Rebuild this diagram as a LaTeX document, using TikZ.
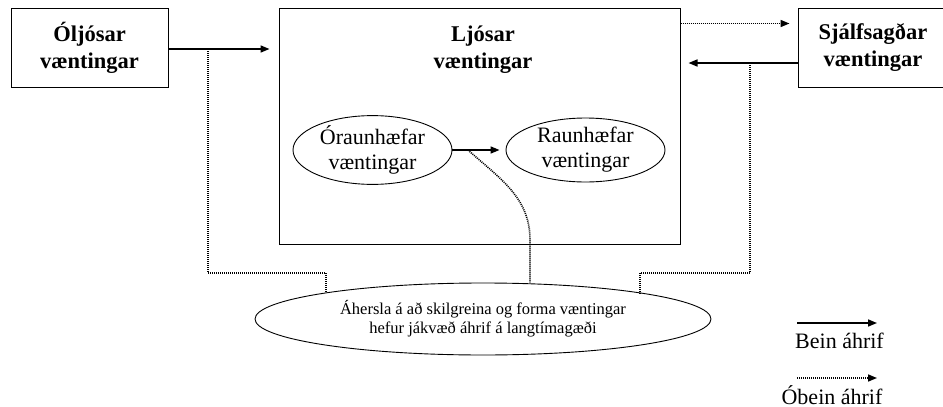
\documentclass[tikz,border=0pt]{standalone}
\usepackage{fontspec}
\setmainfont{Liberation Serif}
\usepackage{tikz}
\usetikzlibrary{shapes.geometric}
\usetikzlibrary{arrows.meta}
\newcommand \hfont {\fontsize{22.5}{27}\selectfont\bfseries}
\newcommand \tfont {\fontsize{22}{25}\selectfont}
\newcommand \sfont {\fontsize{16.5}{19}\selectfont}
\tikzstyle{box}=[rectangle,draw=black,line width=1pt,inner sep=0mm,align=center,font=\hfont]
\tikzstyle{oval}=[ellipse,draw=black,line width=0.9pt,inner sep=0mm,align=center,font=\tfont]
\tikzstyle{arrow}=[line width=1.6pt,-{Triangle[length=9pt,width=7pt]}]
\tikzstyle{dotline}=[line width=1.6pt,dash pattern=on 1pt off 1pt]
\tikzstyle{dotarrow}=[dotline,-{Triangle[length=9pt,width=7pt]}]

\begin{document}
\begin{tikzpicture}[x=1pt,y=-1pt]
      \useasboundingbox (0,0) rectangle (943,407);
      \node[box,minimum width=157pt,minimum height=79pt] at (89.5,47.5) (olj) {Óljósar\\væntingar};
      \node[box,minimum width=401pt,minimum height=236pt] at (479.5,126) (ljos) {};
      \node[align=center,font=\hfont] at (483,50) (ljostitle) {Ljósar\\væntingar};
      \node[box,minimum width=150pt,minimum height=79pt] at (873,47.5) (sja) {Sjálfsagðar\\væntingar};
      \node[oval,minimum width=159pt,minimum height=56pt] at (372.5,150) (orau) {Óraunhæfar\\væntingar};
      \node[oval,minimum width=159pt,minimum height=56pt] at (585.5,150) (rau) {Raunhæfar\\væntingar};
      \node[oval,font=\sfont,minimum width=456pt,minimum height=72pt] at (483,319) (aherslu) {Áhersla á að skilgreina og forma væntingar\\hefur jákvæð áhrif á langtímagæði};
      \draw[arrow,shorten >=9pt] ([yshift=-1.5pt]olj.east) -- ([yshift=-1.5pt]olj.east -| ljos.west);
      \draw[dotarrow,shorten >=8pt] ([yshift=-16pt]ljos.north east) -- ([yshift=-16pt]sja.north west);
      \draw[arrow,shorten >=8pt] ([yshift=-15.5pt]sja.west) -- ([yshift=-15.5pt]sja.west -| ljos.east);
      \draw[arrow,shorten >=6pt] (orau.east) -- (rau.west);
      % dotted links down to the ellipse
      \coordinate (a1) at (208,49);
      \coordinate (k1) at (326,273);
      \coordinate (a2) at (750,63);
      \coordinate (k2) at (640,273);
      \coordinate (c0) at (468,150);
      \coordinate (k3) at (530,240);
      \draw[dotline] (a1) |- (k1) -- (k1 |- aherslu.170.6);
      \draw[dotline] (a2) |- (k2) -- (k2 |- aherslu.9.4);
      \draw[dotline] (c0) to[out=-42,in=90] (k3) -- (k3 |- aherslu.north);
      % legend
      \coordinate (l1) at (797,323);
      \coordinate (l2) at (877,323);
      \coordinate (l3) at (797,378);
      \coordinate (l4) at (877,378);
      \draw[arrow] (l1) -- (l2);
      \draw[dotarrow] (l3) -- (l4);
      \node[anchor=base,inner sep=0pt,font=\tfont] at (839.5,348) (bein) {Bein áhrif};
      \node[anchor=base,inner sep=0pt,font=\tfont] at (832,404) (obein) {Óbein áhrif};
    \end{tikzpicture}
\end{document}
